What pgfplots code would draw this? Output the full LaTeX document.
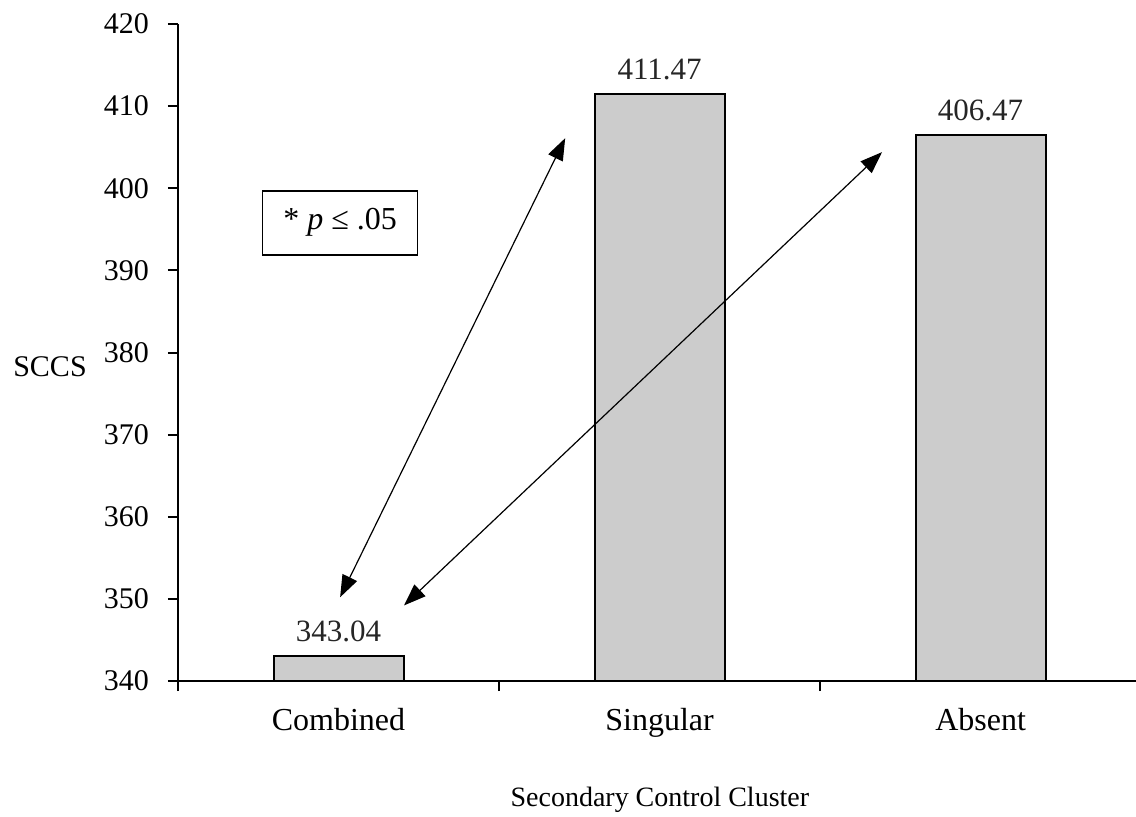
\documentclass[border=0pt]{standalone}
\usepackage{pgfplots}
\pgfplotsset{compat=1.18}
\usepackage{fontspec}
\setmainfont{Liberation Serif}
\usetikzlibrary{arrows.meta}
\begin{document}
\begin{tikzpicture}[font=\fontsize{15}{18}\selectfont]
\useasboundingbox (-89pt,-67.5pt) rectangle (479pt,340.5pt);
\begin{axis}[
  at={(0,0)}, anchor=south west,
  scale only axis,
  width=479pt, height=328.5pt,
  xmin=-0.5, xmax=2.484,
  ymin=340, ymax=420,
  ytick={340,350,...,420},
  axis lines=left,
  axis line style={-, line width=1pt},
  tick style={line width=1pt, black},
  tick align=outside,
  major tick length=5pt,
  xtick={-0.5,0.5,1.5},
  xticklabels={,,},
  extra x ticks={0,1,2},
  extra x tick labels={Combined,Singular,Absent},
  extra x tick style={major tick length=0pt},
  x tick label style={yshift=-10pt, font=\fontsize{16}{19}\selectfont},
  y tick label style={xshift=-6pt},
  /pgf/number format/assume math mode=true,
  xlabel={Secondary Control Cluster},
  xlabel style={at={(axis description cs:0.503,-0.181)}, anchor=center, font=\fontsize{14}{17}\selectfont},
  ylabel={SCCS},
  ylabel style={rotate=-90, at={(axis description cs:-0.1336,0.478)}, anchor=center},
  clip=false,
  >={Triangle[length=11pt,width=8pt]},
]
\addplot[ybar, bar width=65pt, fill=gray!40, draw=black, line width=1pt,
  nodes near coords, point meta=explicit symbolic,
  every node near coord/.style={anchor=south, inner sep=2pt, yshift=5pt, black!85, line width=0pt, font=\fontsize{15.5}{18}\selectfont}]
  coordinates {(0,343.04) [343.04] (1,411.47) [411.47] (2,406.47) [406.47]};
\addplot[<->, line width=0.6pt, black] coordinates {(0.706,406.1) (0.005,350.2)};
\addplot[<->, line width=0.6pt, black] coordinates {(1.693,404.4) (0.204,349.2)};
\node[draw=black, line width=0.8pt, minimum width=77.5pt, minimum height=32pt, inner sep=0pt, font=\fontsize{16}{19}\selectfont]
  at (axis cs:0.005,395.8) {* \textit{p} ≤ .05};
\end{axis}
\end{tikzpicture}
\end{document}
